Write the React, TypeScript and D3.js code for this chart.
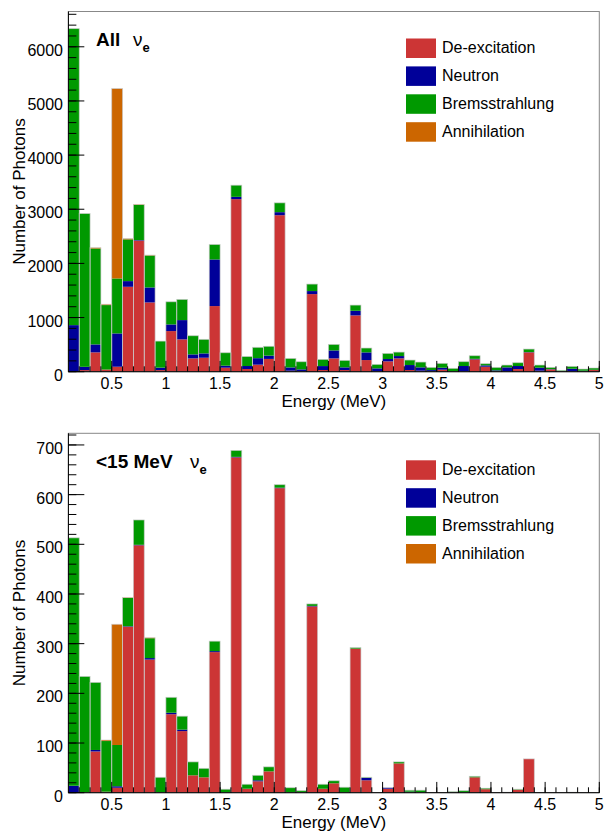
import React from "react";
import * as d3 from "d3";

// bin edges in MeV (0.1 MeV bins)
const binEdges = [
  0.1, 0.2, 0.3, 0.4, 0.5, 0.6, 0.7, 0.8, 0.9, 1.0,
  1.1, 1.2, 1.3, 1.4, 1.5, 1.6, 1.7, 1.8, 1.9, 2.0,
  2.1, 2.2, 2.3, 2.4, 2.5, 2.6, 2.7, 2.8, 2.9, 3.0,
  3.1, 3.2, 3.3, 3.4, 3.5, 3.6, 3.7, 3.8, 3.9, 4.0,
  4.1, 4.2, 4.3, 4.4, 4.5, 4.6, 4.7, 4.8, 4.9, 5.0,
];

// All nu_e
const deexAll = [
  0, 30, 357, 40, 92, 1568, 2420, 1279, 30, 750,
  597, 246, 258, 1212, 74, 3186, 50, 130, 236, 2890,
  18, 10, 1433, 31, 246, 31, 1039, 215, 5, 191,
  246, 31, 18, 0, 37, 0, 0, 228, 92, 0,
  0, 49, 357, 18, 43, 0, 0, 0, 31,
];
const neutronAll = [
  860, 60, 147, 0, 615, 105, 10, 277, 45, 123,
  356, 74, 80, 861, 37, 43, 55, 120, 61, 56,
  61, 33, 56, 73, 147, 49, 86, 142, 57, 43,
  43, 92, 62, 30, 37, 5, 105, 10, 25, 25,
  80, 56, 5, 56, 5, 0, 55, 18, 5,
];
const bremsAll = [
  5475, 2830, 1771, 1190, 1015, 770, 650, 590, 490, 418,
  382, 344, 259, 276, 239, 215, 175, 200, 172, 172,
  166, 141, 129, 123, 111, 129, 105, 80, 73, 104,
  73, 92, 98, 50, 80, 57, 80, 57, 31, 55,
  43, 61, 56, 49, 32, 25, 43, 31, 32,
];
const annihAll = [
  0, 0, 15, 15, 3506, 15, 10, 7, 0, 0,
  0, 0, 0, 0, 0, 0, 0, 0, 0, 0,
  0, 0, 0, 0, 0, 0, 0, 0, 0, 0,
  0, 0, 0, 0, 0, 0, 0, 0, 0, 0,
  0, 0, 0, 0, 0, 0, 0, 0, 0,
];

// <15 MeV nu_e
const deex15 = [
  0, 0, 83, 2, 10, 334, 498, 268, 0, 158,
  124, 35, 31, 283, 0, 675, 8, 23, 43, 613,
  0, 0, 375, 8, 19, 0, 290, 25, 0, 8,
  59, 0, 0, 0, 0, 0, 0, 31, 7, 0,
  0, 6, 68, 0, 0, 0, 0, 0, 0,
];
const neutron15 = [
  14, 0, 3, 0, 3, 1, 1, 3, 0, 3,
  3, 0, 0, 2, 0, 1, 0, 2, 0, 1,
  0, 0, 1, 0, 0, 0, 0, 5, 0, 2,
  0, 2, 0, 0, 0, 0, 1, 0, 0, 0,
  1, 0, 0, 0, 0, 0, 1, 0, 0,
];
const brems15 = [
  499, 234, 136, 102, 83, 57, 50, 40, 31, 31,
  27, 27, 18, 20, 7, 13, 9, 10, 9, 6,
  10, 4, 4, 9, 5, 11, 2, 1, 0, 0,
  3, 3, 5, 0, 0, 2, 3, 2, 2, 0,
  0, 1, 0, 0, 0, 0, 0, 0, 0,
];
const annih15 = [
  0, 0, 0, 2, 243, 1, 0, 1, 0, 0,
  0, 0, 0, 0, 0, 0, 0, 0, 0, 0,
  0, 0, 0, 0, 0, 0, 0, 0, 0, 0,
  0, 0, 0, 0, 0, 0, 0, 0, 0, 0,
  0, 0, 0, 0, 0, 0, 0, 0, 0,
];

const legendLabels = ["De-excitation", "Neutron", "Bremsstrahlung", "Annihilation"];
const colors = ["#cc3535", "#000099", "#009900", "#cc6600"];

const xTickValues = [0.5, 1, 1.5, 2, 2.5, 3, 3.5, 4, 4.5, 5];
const xTickLabels = ["0.5", "1", "1.5", "2", "2.5", "3", "3.5", "4", "4.5", "5"];
const yTicksAll = [0, 1000, 2000, 3000, 4000, 5000, 6000];
const yTicks15 = [0, 100, 200, 300, 400, 500, 600, 700];

const FONT = "'Liberation Sans', Arial, Helvetica, sans-serif";
const X0 = 68.4;
const X1 = 599.3;

type PanelProps = {
  top: number;
  bottom: number;
  series: number[][];
  yTicks: number[];
  minorStep: number;
  title: string;
  nuX: number;
};

const Panel = ({ top, bottom, series, yTicks, minorStep, title, nuX }: PanelProps) => {
  const totals = binEdges.slice(0, -1).map((_, i) => d3.sum(series, (s) => s[i]));
  const yMax = (d3.max(totals) || 1) * 1.05;

  const x = d3.scaleLinear().domain([0.1, 5.0]).range([X0, X1]);
  const y = d3.scaleLinear().domain([0, yMax]).range([bottom, top]);

  const rows = binEdges.slice(0, -1).map((_, i) => {
    const r: Record<string, number> = {};
    series.forEach((s, k) => (r["k" + k] = s[i]));
    return r;
  });
  const stacked = d3.stack<Record<string, number>>().keys(series.map((_, k) => "k" + k))(rows);

  const minorY = d3.range(0, yMax, minorStep);
  const minorX = d3.range(1, 50).map((d) => d / 10 + 0.1);
  const ySpan = bottom - top;
  const yMajorLen = (X1 - X0) * 0.03;
  const xMajorLen = ySpan * 0.03;

  return (
    <g>
      {stacked.map((layer, k) => (
        <g key={k} fill={colors[k]}>
          {layer.map((d, i) => {
            const h = y(d[0]) - y(d[1]);
            if (h <= 0) return null;
            const xa = x(binEdges[i]);
            return (
              <rect key={i} x={xa} y={y(d[1])} width={x(binEdges[i + 1]) - xa} height={h} />
            );
          })}
        </g>
      ))}
      {totals.map((t, i) =>
        t > 0 ? (
          <rect
            key={i}
            x={x(binEdges[i])}
            y={y(t)}
            width={x(binEdges[i + 1]) - x(binEdges[i])}
            height={bottom - y(t)}
            fill="none"
            stroke="#c8c8c8"
            strokeWidth={0.8}
            strokeOpacity={0.8}
          />
        ) : null
      )}

      {/* frame */}
      <rect x={X0} y={top} width={X1 - X0} height={ySpan} fill="none" stroke="#888" strokeWidth={1} />
      <line x1={X0} x2={X0} y1={top} y2={bottom} stroke="#000" strokeWidth={1} />
      <line x1={X0} x2={X1} y1={bottom} y2={bottom} stroke="#000" strokeWidth={1} />

      {/* y ticks */}
      {minorY.map((v) => (
        <line key={"my" + v} x1={X0} x2={X0 + yMajorLen / 2} y1={y(v)} y2={y(v)} stroke="#000" />
      ))}
      {yTicks.map((v) => (
        <g key={"y" + v}>
          <line x1={X0} x2={X0 + yMajorLen} y1={y(v)} y2={y(v)} stroke="#000" />
          <text x={63} y={y(v) + 9} textAnchor="end" fontSize={16} fontFamily={FONT}>
            {v}
          </text>
        </g>
      ))}

      {/* x ticks */}
      {minorX.map((v) => (
        <line key={"mx" + v} x1={x(v)} x2={x(v)} y1={bottom} y2={bottom - xMajorLen / 2} stroke="#000" />
      ))}
      {xTickValues.map((v, i) => (
        <g key={"x" + v}>
          <line x1={x(v)} x2={x(v)} y1={bottom} y2={bottom - xMajorLen} stroke="#000" />
          <text x={x(v)} y={bottom + 17.5} textAnchor="middle" fontSize={16} fontFamily={FONT}>
            {xTickLabels[i]}
          </text>
        </g>
      ))}

      {/* axis titles */}
      <text
        x={(X0 + X1) / 2}
        y={bottom + 35}
        textAnchor="middle"
        fontSize={17}
        fontFamily={FONT}
      >
        Energy (MeV)
      </text>
      <text
        transform={`translate(25,${(top + bottom) / 2}) rotate(-90)`}
        textAnchor="middle"
        fontSize={17}
        fontFamily={FONT}
      >
        Number of Photons
      </text>

      {/* panel title */}
      <text x={96} y={top + 34.5} fontSize={19} fontWeight="bold" fontFamily={FONT}>
        {title}
      </text>
      <text x={nuX} y={top + 34.5} fontSize={19} fontFamily={FONT}>
        ν
      </text>
      <text x={nuX + 9.5} y={top + 40.5} fontSize={13} fontWeight="bold" fontFamily={FONT}>
        e
      </text>

      {/* legend */}
      {legendLabels.map((lab, k) => (
        <g key={lab}>
          <rect x={406} y={top + 27 + k * 27.9} width={30} height={19.5} fill={colors[k]} />
          <text x={442} y={top + 41.5 + k * 27.9} fontSize={16} fontFamily={FONT}>
            {lab}
          </text>
        </g>
      ))}
    </g>
  );
};

export default function App() {
  return (
    <div style={{ position: "absolute", left: 0, top: 0 }}>
      <svg width={611} height={832} style={{ display: "block", background: "#fff" }}>
        <Panel
          top={11.5}
          bottom={371.7}
          series={[deexAll, neutronAll, bremsAll, annihAll]}
          yTicks={yTicksAll}
          minorStep={200}
          title="All"
          nuX={133}
        />
        <Panel
          top={433.3}
          bottom={792.7}
          series={[deex15, neutron15, brems15, annih15]}
          yTicks={yTicks15}
          minorStep={20}
          title="<15 MeV"
          nuX={190}
        />
      </svg>
    </div>
  );
}
